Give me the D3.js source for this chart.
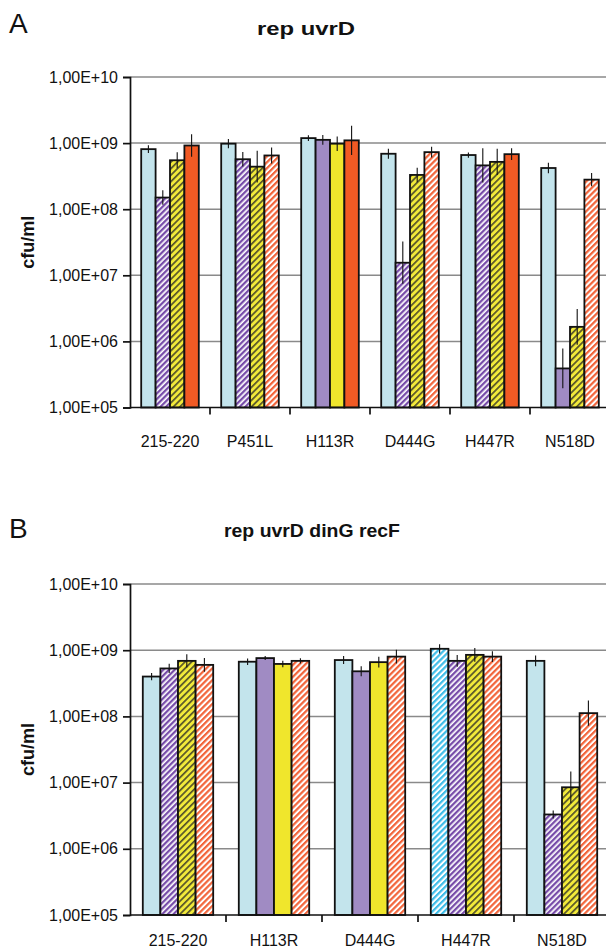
<!DOCTYPE html>
<html lang="en">
<head>
<meta charset="utf-8">
<title>rep uvrD - cfu/ml</title>
<script src="https://d3js.org/d3.v7.min.js"></script>
<style>
  body { margin: 0; background: #fff; }
  text { font-family: "Liberation Sans", Arial, sans-serif; fill: #111; }
  .grid line { stroke: #8a8a8a; stroke-width: 1.5px; }
  .bar { stroke: #111; stroke-width: 1.8px; }
  .err { stroke: #111; stroke-width: 1.1px; }
</style>
</head>
<body>
<div id="chart"></div>
<script>
// ---- data ----
var yTicks = [1e5, 1e6, 1e7, 1e8, 1e9, 1e10];

// panel A : rep uvrD
var catsA = ["215-220", "P451L", "H113R", "D444G", "H447R", "N518D"];
var s1A = [8.1e8, 9.8e8, 1.19e9, 6.9e8, 6.6e8, 4.2e8];
var s2A = [1.5e8, 5.7e8, 1.12e9, 1.55e7, 4.6e8, 3.9e5];
var s3A = [5.5e8, 4.4e8, 9.8e8, 3.3e8, 5.2e8, 1.66e6];
var s4A = [9.2e8, 6.5e8, 1.1e9, 7.3e8, 6.8e8, 2.8e8];
// error half-width, in decades
var e1A = [0.06, 0.07, 0.045, 0.075, 0.04, 0.08];
var e2A = [0.11, 0.11, 0.075, 0.32, 0.26, 0.30];
var e3A = [0.12, 0.24, 0.11, 0.11, 0.20, 0.27];
var e4A = [0.17, 0.12, 0.22, 0.08, 0.09, 0.10];
// hatched (1) or plain (0)
var h1A = [0, 0, 0, 0, 0, 0];
var h2A = [1, 1, 0, 1, 1, 0];
var h3A = [1, 1, 0, 1, 1, 1];
var h4A = [0, 1, 0, 1, 0, 1];

// panel B : rep uvrD dinG recF
var catsB = ["215-220", "H113R", "D444G", "H447R", "N518D"];
var s1B = [4.0e8, 6.7e8, 7.1e8, 1.05e9, 6.9e8];
var s2B = [5.3e8, 7.6e8, 4.8e8, 6.9e8, 3.3e6];
var s3B = [6.9e8, 6.2e8, 6.6e8, 8.5e8, 8.5e6];
var s4B = [6.0e8, 6.9e8, 8.0e8, 8.0e8, 1.12e8];
var e1B = [0.055, 0.05, 0.06, 0.07, 0.08];
var e2B = [0.07, 0.03, 0.075, 0.09, 0.06];
var e3B = [0.10, 0.05, 0.08, 0.105, 0.24];
var e4B = [0.105, 0.04, 0.105, 0.08, 0.19];
var h1B = [0, 0, 0, 1, 0];
var h2B = [1, 0, 0, 1, 1];
var h3B = [1, 0, 0, 1, 1];
var h4B = [1, 1, 1, 1, 1];

// ---- styles ----
var solid = ["#c3e4ec", "#a08bc3", "#f0e62c", "#f15a24"];
var hatchFill = ["url(#hB)", "url(#hP)", "url(#hY)", "url(#hO)"];

var width = 606, height = 950;

var svg = d3.select("#chart").append("svg")
  .attr("width", width)
  .attr("height", height);

// hatch patterns, stripes rising to the right
var defs = svg.append("defs");
function hatch(id, bg, fg, w, sw) {
  var p = defs.append("pattern")
    .attr("id", id)
    .attr("patternUnits", "userSpaceOnUse")
    .attr("width", w).attr("height", w)
    .attr("patternTransform", "rotate(45)");
  p.append("rect").attr("width", w).attr("height", w).attr("fill", bg);
  p.append("rect").attr("width", sw).attr("height", w).attr("fill", fg);
}
hatch("hB", "#ffffff", "#3fbde8", 4.2, 2.2);
hatch("hP", "#ffffff", "#774ca9", 4.0, 2.3);
hatch("hY", "#f2ea3a", "#55532a", 4.6, 1.7);
hatch("hO", "#ffffff", "#f2643a", 4.2, 2.2);

var fmt = function (v) {
  return "1,00E+" + d3.format("02d")(Math.round(Math.log10(v)));
};

function drawPanel(opt) {
  var g = svg.append("g");

  var x0 = d3.scaleBand()
    .domain(opt.cats)
    .range([130, 610]);

  var x1 = d3.scaleBand()
    .domain([0, 1, 2, 3])
    .range([opt.pad, x0.bandwidth() - opt.pad]);

  var y = d3.scaleLog()
    .domain([1e5, 1e10])
    .range([opt.bottom, opt.top]);

  // gridlines
  g.append("g").attr("class", "grid")
    .selectAll("line")
    .data(yTicks.slice(1))
    .join("line")
    .attr("x1", 130).attr("x2", width)
    .attr("y1", function (d) { return y(d); })
    .attr("y2", function (d) { return y(d); });

  // one row per bar
  var rows = [];
  opt.cats.forEach(function (c, i) {
    for (var k = 0; k < 4; k++) {
      rows.push({
        cat: c, k: k,
        v: opt.series[k][i],
        e: opt.errs[k][i],
        h: opt.hatch[k][i]
      });
    }
  });

  g.append("g").selectAll("rect")
    .data(rows)
    .join("rect")
    .attr("class", "bar")
    .attr("x", function (d) { return x0(d.cat) + x1(d.k); })
    .attr("width", x1.bandwidth())
    .attr("y", function (d) { return y(d.v); })
    .attr("height", function (d) { return y(1e5) - y(d.v); })
    .attr("fill", function (d) { return d.h ? hatchFill[d.k] : solid[d.k]; });

  g.append("g").selectAll("line")
    .data(rows)
    .join("line")
    .attr("class", "err")
    .attr("x1", function (d) { return x0(d.cat) + x1(d.k) + x1.bandwidth() / 2; })
    .attr("x2", function (d) { return x0(d.cat) + x1(d.k) + x1.bandwidth() / 2; })
    .attr("y1", function (d) { return y(d.v * Math.pow(10, d.e)); })
    .attr("y2", function (d) { return y(d.v / Math.pow(10, d.e)); });

  // y axis
  var yAxis = g.append("g")
    .attr("transform", "translate(130,0)")
    .call(d3.axisLeft(y).tickValues(yTicks).tickFormat(fmt).tickSize(7).tickPadding(5));
  yAxis.select(".domain").attr("stroke", "#111").attr("stroke-width", 1.7);
  yAxis.selectAll(".tick line").attr("stroke", "#111").attr("stroke-width", 1.7);
  yAxis.selectAll(".tick text")
    .attr("font-size", 16).attr("fill", "#222")
    .attr("font-family", "Liberation Sans, Arial, sans-serif");

  // x axis: ticks between categories, labels centred
  var xg = g.append("g").attr("transform", "translate(0," + opt.bottom + ")");
  xg.append("line")
    .attr("x1", 130).attr("x2", width)
    .attr("stroke", "#111").attr("stroke-width", 1.7);
  xg.selectAll("line.tk")
    .data(opt.cats.slice(1))
    .join("line")
    .attr("class", "tk")
    .attr("x1", function (d) { return x0(d); })
    .attr("x2", function (d) { return x0(d); })
    .attr("y1", 0).attr("y2", 7)
    .attr("stroke", "#111").attr("stroke-width", 1.7);
  xg.selectAll("text")
    .data(opt.cats)
    .join("text")
    .attr("x", function (d) { return x0(d) + x0.bandwidth() / 2; })
    .attr("y", opt.labelDy)
    .attr("text-anchor", "middle")
    .attr("font-size", 16)
    .attr("fill", "#222")
    .text(function (d) { return d; });

  // y label
  svg.append("text")
    .attr("transform", "translate(34," + (opt.top + opt.bottom) / 2 + ") rotate(-90)")
    .attr("text-anchor", "middle")
    .attr("font-size", 18)
    .attr("font-weight", "bold")
    .text("cfu/ml");

  // title and panel letter
  svg.append("text")
    .attr("x", opt.titleX).attr("y", opt.titleY)
    .attr("text-anchor", "middle")
    .attr("font-size", 18)
    .attr("font-weight", "bold")
    .attr("textLength", opt.titleW)
    .attr("lengthAdjust", "spacingAndGlyphs")
    .text(opt.title);

  svg.append("text")
    .attr("x", 9).attr("y", opt.letterY)
    .attr("font-size", 28)
    .text(opt.letter);
}

drawPanel({
  cats: catsA,
  series: [s1A, s2A, s3A, s4A],
  errs: [e1A, e2A, e3A, e4A],
  hatch: [h1A, h2A, h3A, h4A],
  top: 77, bottom: 407.5, pad: 11.2, labelDy: 39,
  title: "rep uvrD", titleX: 306, titleY: 35, titleW: 98,
  letter: "A", letterY: 33
});

drawPanel({
  cats: catsB,
  series: [s1B, s2B, s3B, s4B],
  errs: [e1B, e2B, e3B, e4B],
  hatch: [h1B, h2B, h3B, h4B],
  top: 584, bottom: 915, pad: 12.8, labelDy: 31,
  title: "rep uvrD dinG recF", titleX: 312, titleY: 537, titleW: 176,
  letter: "B", letterY: 538
});
</script>
</body>
</html>
